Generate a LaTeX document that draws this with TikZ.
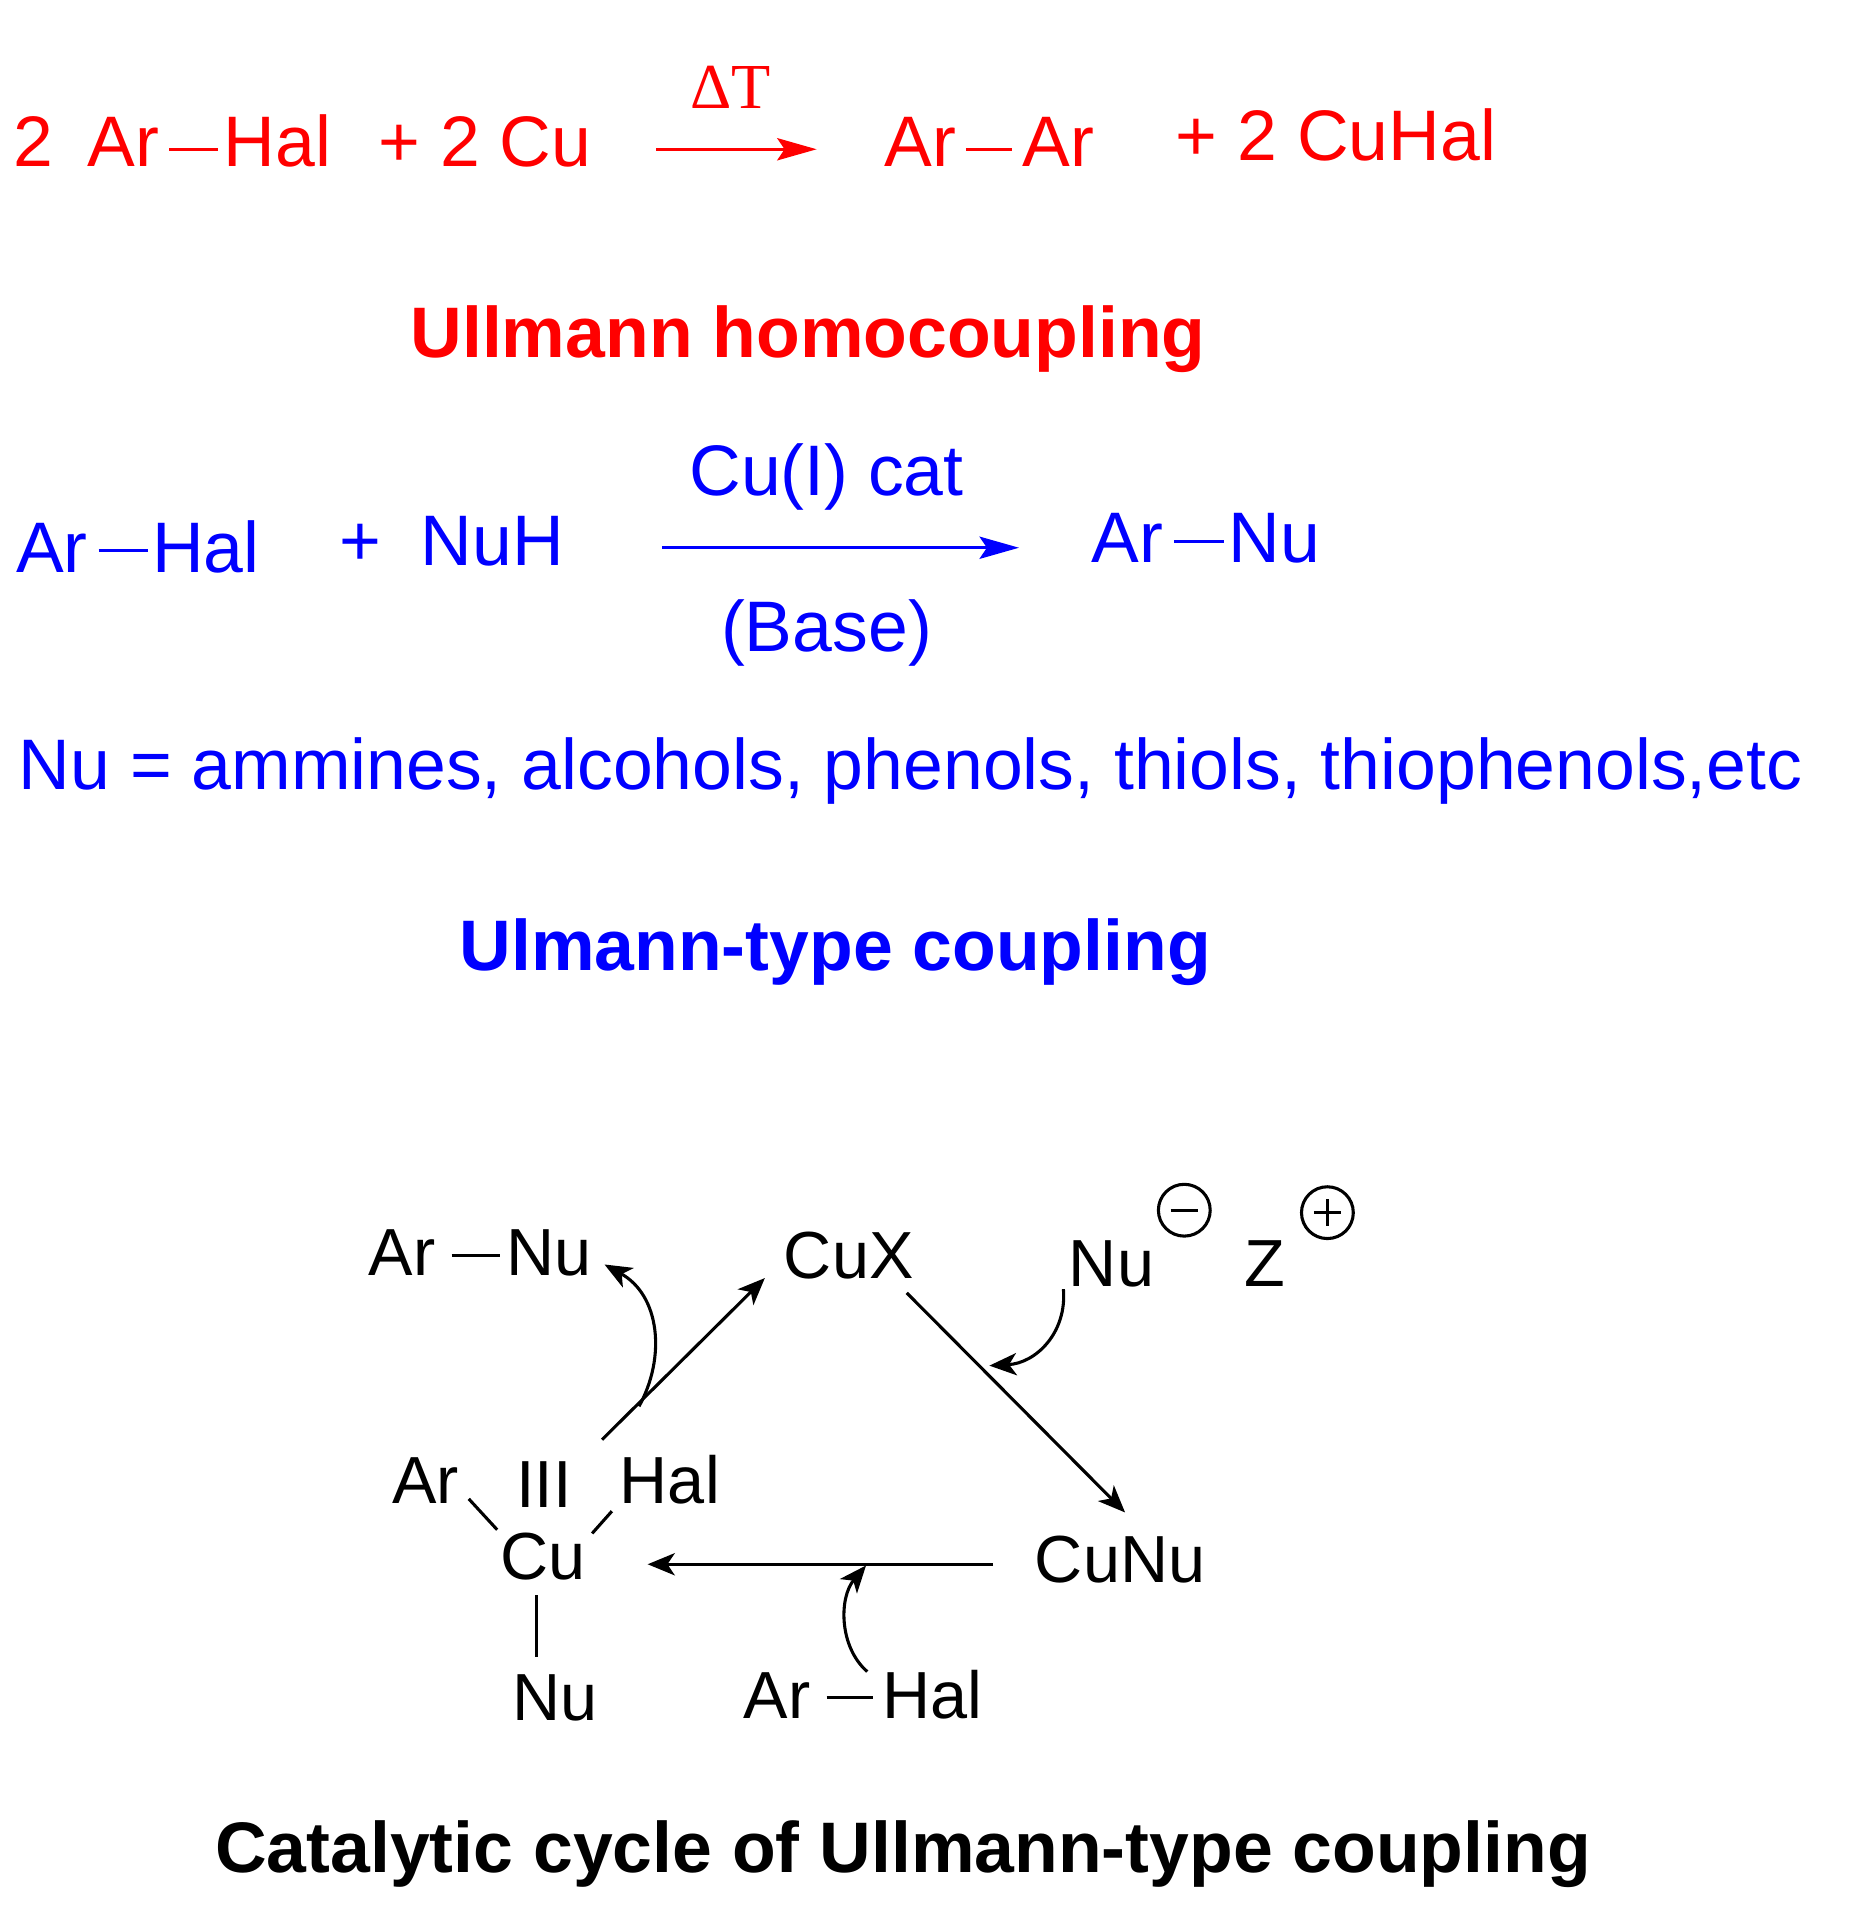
\documentclass[tikz,border=0pt]{standalone}
\usepackage{fontspec}
\setmainfont{Liberation Sans}
\newfontfamily\serifT{Liberation Serif}
\usetikzlibrary{arrows.meta}
\begin{document}
\begin{tikzpicture}[x=1pt,y=-1pt,
  t/.style={inner sep=0pt,anchor=base,font=\fontsize{58}{60}\selectfont},
  c/.style={inner sep=0pt,anchor=base,font=\fontsize{54}{58}\selectfont},
  ttl/.style={inner sep=0pt,anchor=base,font=\bfseries\fontsize{58}{60}\selectfont},
  bond/.style={line width=2.5pt},
  rx/.style={line width=2.5pt,-{Stealth[length=32pt,width=18pt,inset=6pt]}},
  cy/.style={line width=2.5pt,-{Stealth[length=22pt,width=18pt,inset=6pt]}},
  chg/.style={circle,draw,line width=2.5pt,minimum size=42pt,inner sep=0pt,font=\fontsize{54}{54}\selectfont}]
\useasboundingbox (0,0) rectangle (1500,1558);
% line 1
\begin{scope}[red]
\node[t] (two) at (27,135) {2};
\node[t] (ar1) at (100,135) {Ar};
\node[t] (hal1) at (225,135) {Hal};
\draw[bond] (137,121) -- (177,121);
\node[t] (cu1) at (393,135) {+ 2 Cu};
\coordinate (a1s) at (532,121); \coordinate (a1e) at (662,121);
\draw[rx] (a1s) -- (a1e);
\node[inner sep=0pt,anchor=base,font=\serifT\fontsize{52}{54}\selectfont] (dT) at (592,88) {ΔT};
\node[t] (ar2) at (746,135) {Ar};
\node[t] (ar3) at (858,135) {Ar};
\draw[bond] (783,121) -- (820,121);
\node[t] (cuhal) at (1083,130) {+ 2 CuHal};
\node[ttl] (tt1) at (655,290) {Ullmann homocoupling};
\end{scope}
% line 2
\begin{scope}[blue]
\node[t] (ar4) at (42,464) {Ar};
\node[t] (hal2) at (167,464) {Hal};
\draw[bond] (80,446) -- (120,446);
\node[t] (nuh) at (366,458) {+\ \ NuH};
\coordinate (a2s) at (537,444); \coordinate (a2e) at (826,444);
\draw[rx] (a2s) -- (a2e);
\node[t] (cat) at (670,402) {Cu(I) cat};
\node[t] (base) at (670,528) {(Base)};
\node[t] (ar5) at (914,456) {Ar};
\node[t] (nu5) at (1033,456) {Nu};
\draw[bond] (952,439) -- (992,439);
\node[t,anchor=base west] (nueq) at (15,640) {Nu = ammines, alcohols, phenols, thiols, thiophenols,etc};
\node[ttl] (tt2) at (677,787) {Ulmann-type coupling};
\end{scope}
% cycle
\node[c] (arA) at (326,1034) {Ar};
\node[c] (nuA) at (445,1034) {Nu};
\draw[bond] (366,1018) -- (405,1018);
\node[c] (cux) at (688,1036) {CuX};
\node[c] (nuB) at (901,1043) {Nu};
\node[chg] (minus) at (960,981) {};
\draw[line width=2.5pt] (949,981) -- (971,981);
\node[c] (z) at (1025,1043) {Z};
\node[chg] (plus) at (1076,983) {};
\draw[line width=2.5pt] (1065,983) -- (1087,983) (1076,972) -- (1076,994);
\node[c] (arC) at (345,1219) {Ar};
\node[c] (iii) at (441,1222) {III};
\node[c] (halC) at (543,1219) {Hal};
\node[c] (cuC) at (440,1280) {Cu};
\node[c] (nuC) at (450,1395) {Nu};
\node[c] (cunu) at (908,1283) {CuNu};
\node[c] (arD) at (630,1393) {Ar};
\node[c] (halD) at (756,1393) {Hal};
\draw[bond] (670,1376) -- (708,1376);
\draw[bond] (380,1215) -- (403,1240);
\draw[bond] (496,1225) -- (480,1243);
\draw[bond] (435,1293) -- (435,1343);
\coordinate (p1) at (488,1167); \coordinate (p2) at (620,1036);
\draw[cy] (p1) -- (p2);
\coordinate (q1) at (518,1140); \coordinate (q2) at (490,1025);
\draw[cy] (q1) .. controls (540,1100) and (535,1050) .. (q2);
\coordinate (r1) at (735,1048); \coordinate (r2) at (912,1226);
\draw[cy] (r1) -- (r2);
\coordinate (s1) at (862,1045); \coordinate (s2) at (802,1107);
\draw[cy] (s1) .. controls (865,1080) and (840,1105) .. (s2);
\coordinate (u1) at (805,1268); \coordinate (u2) at (525,1268);
\draw[cy] (u1) -- (u2);
\coordinate (v1) at (703,1355); \coordinate (v2) at (702,1269);
\draw[cy] (v1) .. controls (680,1335) and (680,1295) .. (v2);
\node[ttl] (tt3) at (732,1518) {Catalytic cycle of Ullmann-type coupling};
\end{tikzpicture}
\end{document}
